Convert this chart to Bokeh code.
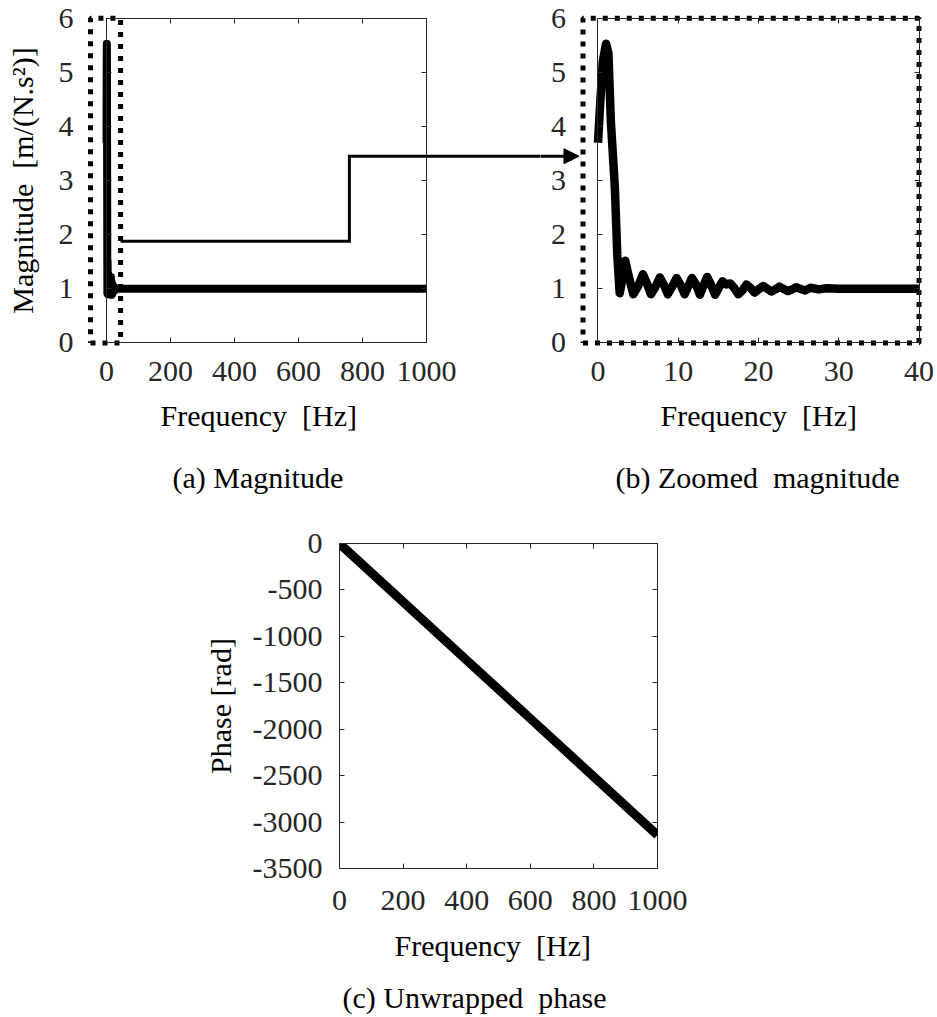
from bokeh.plotting import figure
from bokeh.layouts import column, row
from bokeh.models import Range1d, LinearAxis, FixedTicker, Spacer, Title
from bokeh.embed import file_html
from bokeh.resources import INLINE

FONT = "'Liberation Serif', 'Times New Roman', 'DejaVu Serif', serif"
INK = "#262626"
GAP = "\u00a0 "   # the wide word gap used in the original labels

# ---------------- data ----------------
freq_hz = [0.0, 0.3, 0.6, 1.0, 1.3, 1.6, 2.1, 2.4, 2.7,
           3.0, 3.4, 3.8, 4.4, 5.0, 5.6, 6.1, 6.6, 7.1, 7.7,
           8.2, 8.7, 9.2, 9.8, 10.3, 10.8, 11.2, 11.7, 12.2, 12.7,
           13.1, 13.6, 14.1, 14.6, 15.0, 15.5, 16.0, 16.5, 17.0, 17.5,
           18.0, 18.5, 19.0, 19.5, 20.0, 20.6, 21.1, 21.6, 22.1, 22.6,
           23.1, 23.7, 24.2, 24.7, 25.2, 25.8, 26.5, 27.5, 28.5, 30,
           32, 34, 36, 38, 40,
           100, 200, 300, 400, 500, 600, 700, 800, 900, 1000]
magnitude = [3.70, 4.50, 5.20, 5.53, 5.35, 4.10, 2.87, 1.64, 0.92,
             1.15, 1.52, 1.25, 0.90, 1.05, 1.27, 1.10, 0.90, 1.02, 1.21,
             1.08, 0.90, 1.03, 1.20, 1.07, 0.90, 1.03, 1.20, 1.08, 0.89,
             1.04, 1.22, 1.07, 0.89, 1.00, 1.14, 1.08, 1.10, 1.01, 0.90,
             0.97, 1.08, 1.02, 0.93, 0.99, 1.05, 1.00, 0.95, 0.99, 1.04,
             1.00, 0.96, 0.99, 1.03, 1.00, 0.97, 1.02, 0.99, 1.01, 1.0,
             1.0, 1.0, 1.0, 1.0, 1.0,
             1.0, 1.0, 1.0, 1.0, 1.0, 1.0, 1.0, 1.0, 1.0, 1.0]

phase_freq_hz = [0, 200, 400, 600, 800, 1000]
phase_rad = [0, -628, -1257, -1885, -2513, -3140]

magnitude_ticks = [0, 1, 2, 3, 4, 5, 6]
full_freq_ticks = [0, 200, 400, 600, 800, 1000]
zoom_freq_ticks = [0, 10, 20, 30, 40]
phase_ticks = [0, -500, -1000, -1500, -2000, -2500, -3000, -3500]
phase_tick_labels = ["0", "-500", "-1000", "-1500", "-2000", "-2500", "-3000", "-3500"]

ZOOM_MAX_HZ = 40
n_zoom = freq_hz.index(ZOOM_MAX_HZ) + 1      # points shown in the zoomed panel

# zoom window and connector arrow (annotation geometry, in data units)
ZOOM_A = (-50, 44)            # dotted window drawn in panel (a), Hz
ZOOM_B = (-1.87, 40)          # dotted window drawn in panel (b), Hz
CONN_LOW, CONN_HIGH = 1.88, 3.45
CONN_STEP = 759               # Hz (panel a) where the connector steps up
HEAD_BASE, HEAD_TIP, HEAD_HALF = -4.24, -2.37, 0.138   # arrow head in panel (b)


def base_fig(width, height, xr, yr, left, right, top, bottom, outline=None):
    return figure(width=width, height=height,
                  x_range=Range1d(*xr), y_range=Range1d(*yr),
                  x_axis_type=None, y_axis_type=None,
                  output_backend="svg", toolbar_location=None,
                  min_border_left=left, min_border_right=right,
                  min_border_top=top, min_border_bottom=bottom,
                  outline_line_color=outline,
                  background_fill_color="white", border_fill_color="white")


def add_axis(p, side, ticks, fixed=None, bounds="auto", rule=False, ticks_in=0,
             labels=False, standoff=13, label=None, label_standoff=10, overrides=None):
    ax = LinearAxis(ticker=FixedTicker(ticks=ticks), bounds=bounds)
    if fixed is not None:
        ax.fixed_location = fixed
    ax.axis_line_color = INK if rule else None
    ax.axis_line_width = 1
    ax.major_tick_in = ticks_in
    ax.major_tick_out = 0
    ax.major_tick_line_color = INK if ticks_in else None
    ax.major_tick_line_width = 1
    ax.minor_tick_line_color = None
    ax.major_label_text_font = FONT
    ax.major_label_text_font_size = "30px"
    if labels:
        ax.major_label_standoff = standoff
        ax.major_label_text_color = INK
        if overrides:
            ax.major_label_overrides = overrides
    else:
        ax.major_label_standoff = 0
        ax.major_label_text_color = None
    if label:
        ax.axis_label = label
        ax.axis_label_standoff = label_standoff
        ax.axis_label_text_font = FONT
        ax.axis_label_text_font_size = "30px"
        ax.axis_label_text_font_style = "normal"
        ax.axis_label_text_color = "black"
    p.add_layout(ax, side)
    return ax


def add_title(p, text, offset, standoff):
    p.add_layout(Title(text=text, align="left", offset=offset, standoff=standoff,
                       text_font=FONT, text_font_size="30px",
                       text_font_style="normal", text_color="black"), "below")


TOP_H = 507
BOTTOM_H = 1017 - TOP_H

# ---------------- (a) Magnitude ----------------
pa = base_fig(540, TOP_H, (-331.25, 1356.25), (-0.25, 6.29), 0, 0, 2, TOP_H - 356)
add_axis(pa, "left", magnitude_ticks, fixed=0, bounds=(0, 6), rule=True, ticks_in=5,
         labels=True, standoff=33, label="Magnitude" + GAP + "[m/(N.s²)]", label_standoff=17)
add_axis(pa, "right", magnitude_ticks, fixed=1000, bounds=(0, 6), rule=True, ticks_in=5)
add_axis(pa, "above", full_freq_ticks, fixed=6, bounds=(0, 1000), rule=True, ticks_in=5)
add_axis(pa, "below", full_freq_ticks, fixed=0, bounds=(0, 1000), rule=True, ticks_in=5)
add_axis(pa, "below", full_freq_ticks, bounds=(0, 1000), labels=True, standoff=5)
add_title(pa, "Frequency" + GAP + "[Hz]", 160, 26)
add_title(pa, "(a) Magnitude", 172, 28)

pa.line(freq_hz, magnitude, line_width=8, color="black", line_join="round")
pa.line([ZOOM_A[0], ZOOM_A[1], ZOOM_A[1], ZOOM_A[0], ZOOM_A[0]], [0, 0, 6, 6, 0],
        line_width=5, color="black", line_dash="5 7")
pa.line([ZOOM_A[1], CONN_STEP, CONN_STEP, 1400], [CONN_LOW, CONN_LOW, CONN_HIGH, CONN_HIGH],
        line_width=3, color="black", line_join="miter")

# ---------------- (b) Zoomed magnitude ----------------
pb = base_fig(397, TOP_H, (-7.165, 42.305), (-0.25, 6.29), 0, 0, 2, TOP_H - 356)
add_axis(pb, "left", magnitude_ticks, fixed=0, bounds=(0, 6), rule=True, ticks_in=5,
         labels=True, standoff=32)
add_axis(pb, "right", magnitude_ticks, fixed=40, bounds=(0, 6), rule=True, ticks_in=5)
add_axis(pb, "above", zoom_freq_ticks, fixed=6, bounds=(0, 40), rule=True, ticks_in=5)
add_axis(pb, "below", zoom_freq_ticks, fixed=0, bounds=(0, 40), rule=True, ticks_in=5)
add_axis(pb, "below", zoom_freq_ticks, bounds=(0, 40), labels=True, standoff=5)
add_title(pb, "Frequency" + GAP + "[Hz]", 120, 26)
add_title(pb, "(b) Zoomed" + GAP + "magnitude", 75, 28)

pb.line(freq_hz[:n_zoom], magnitude[:n_zoom], line_width=8.5, color="black", line_join="round")
pb.line([ZOOM_B[0], ZOOM_B[1], ZOOM_B[1], ZOOM_B[0], ZOOM_B[0]], [0, 0, 6, 6, 0],
        line_width=5, color="black", line_dash="5 7")
pb.line([-8, HEAD_BASE + 0.1], [CONN_HIGH, CONN_HIGH], line_width=3, color="black")
pb.patch([HEAD_BASE, HEAD_TIP, HEAD_BASE],
         [CONN_HIGH + HEAD_HALF, CONN_HIGH, CONN_HIGH - HEAD_HALF],
         color="black", line_width=1)

# ---------------- (c) Unwrapped phase ----------------
pc = base_fig(517, BOTTOM_H, (0, 1000), (-3500, 0), 137, 60, 543 - TOP_H, 1017 - 868, outline=INK)
pc.outline_line_width = 1
add_axis(pc, "left", phase_ticks, ticks_in=5, labels=True, standoff=17,
         label="Phase [rad]", label_standoff=13,
         overrides={t: s for t, s in zip(phase_ticks, phase_tick_labels)})
add_axis(pc, "right", phase_ticks, ticks_in=5)
add_axis(pc, "above", full_freq_ticks, ticks_in=5)
add_axis(pc, "below", full_freq_ticks, ticks_in=5, labels=True, standoff=22)
add_title(pc, "Frequency" + GAP + "[Hz]", 55, 28)
add_title(pc, "(c) Unwrapped" + GAP + "phase", 3, 6)

pc.line(phase_freq_hz, phase_rad, line_width=9, color="black")

layout = column(row(pa, pb), row(Spacer(width=200, height=BOTTOM_H), pc))

with open("out.html", "w") as f:
    f.write(file_html(layout, INLINE, title="Magnitude and phase"))
